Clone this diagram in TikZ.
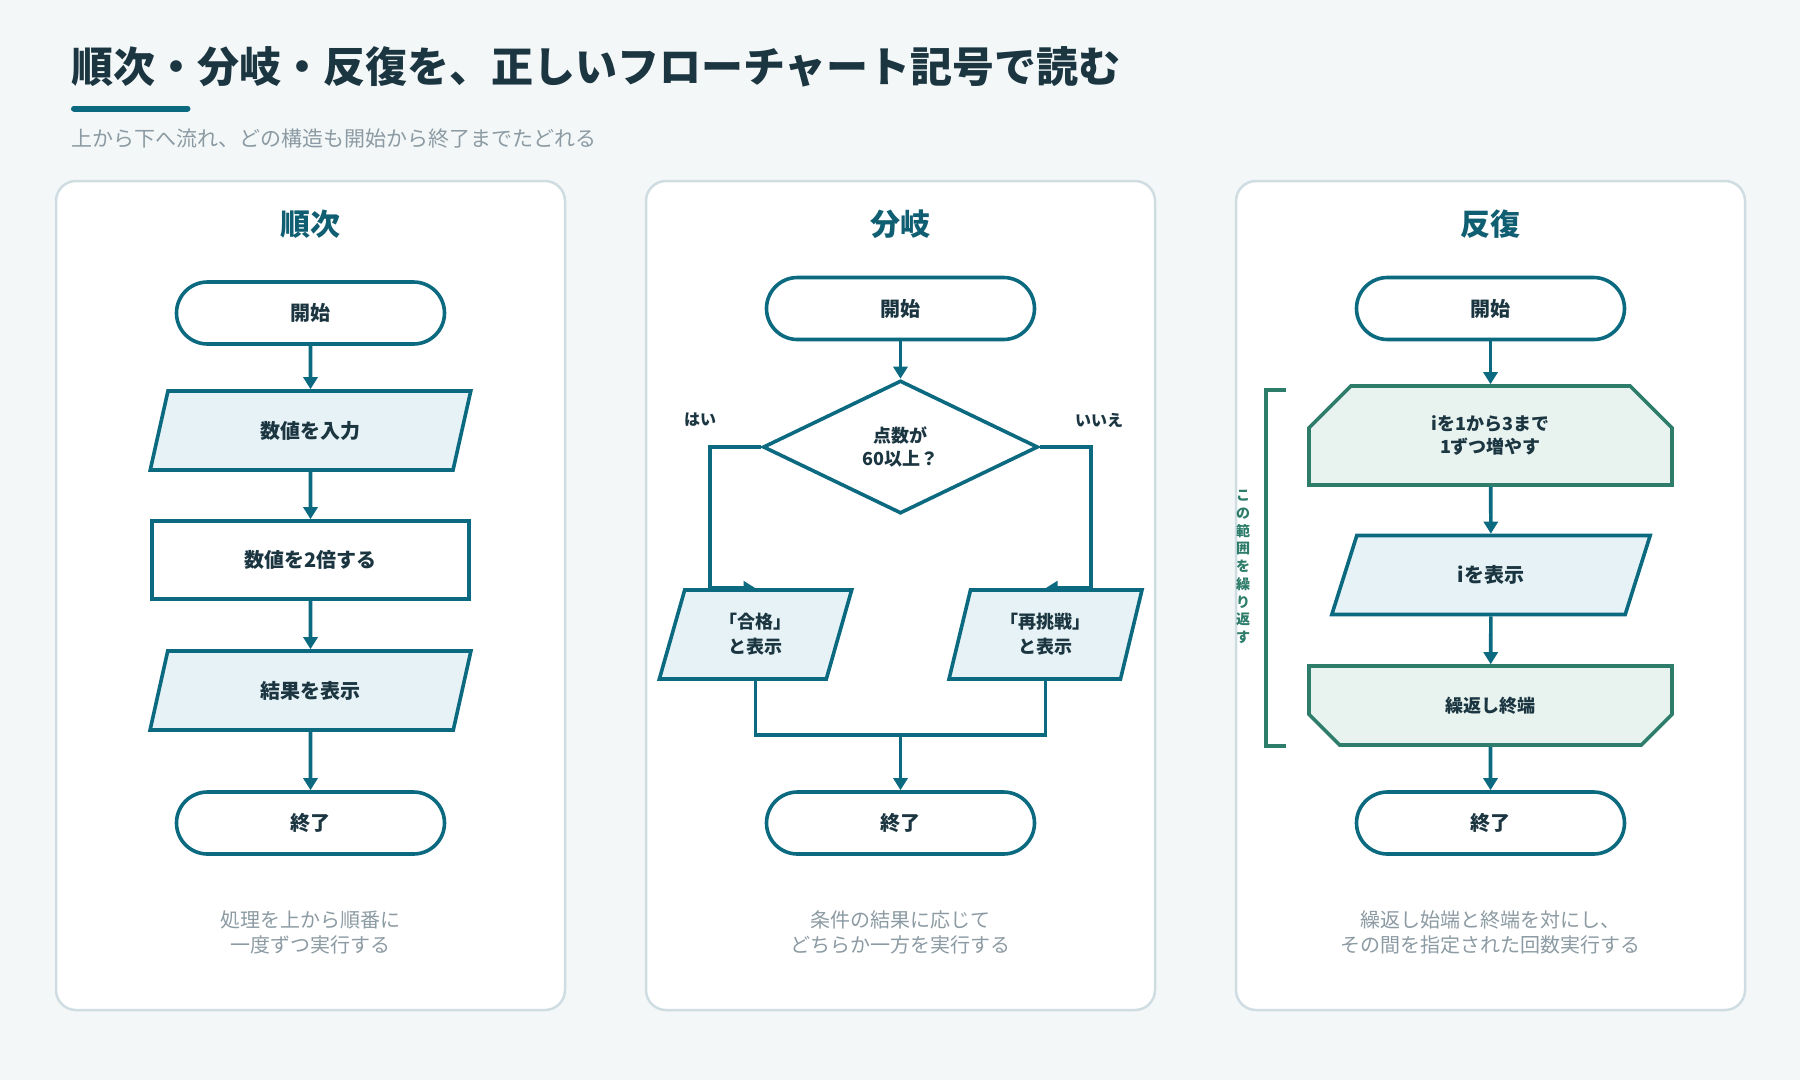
\documentclass[tikz,border=0pt]{standalone}
\usepackage{fontspec}
\setmainfont{Noto Sans CJK JP}
\usetikzlibrary{shapes.geometric,shapes.misc,arrows.meta,positioning}
\definecolor{bgpage}{HTML}{F3F7F8}
\definecolor{panelline}{HTML}{CFDDE2}
\definecolor{flowteal}{HTML}{0B6A80}
\definecolor{flowgreen}{HTML}{2E7D6B}
\definecolor{inkdark}{HTML}{1B3641}
\definecolor{titleteal}{HTML}{0F5E72}
\definecolor{notegray}{HTML}{8C9BA3}
\definecolor{iofill}{HTML}{E6F2F5}
\definecolor{loopfill}{HTML}{E8F2EF}
\pgfdeclarelayer{back}
\pgfdeclarelayer{edges}
\pgfsetlayers{back,edges,main}
\begin{document}
\begin{tikzpicture}[x=1pt, y=-1pt, >={Triangle[width=14pt,length=12pt]},
	box/.style={draw=flowteal, line width=3.6pt, text=inkdark, align=center, inner sep=0pt,
		font=\fontsize{20}{24}\selectfont\bfseries},
	term/.style={box, fill=white, rounded corners=31pt, minimum width=268pt, minimum height=62pt},
	proc/.style={box, fill=white, minimum width=317pt, minimum height=78pt},
	io/.style={box, fill=iofill, trapezium, trapezium stretches=true, trapezium left angle=72,
		trapezium right angle=108, minimum width=321pt, minimum height=79pt},
	loopbox/.style={box, draw=flowgreen, fill=loopfill, chamfered rectangle, chamfered rectangle xsep=24pt,
		chamfered rectangle ysep=22pt, minimum width=363pt},
	flow/.style={draw=flowteal, line width=3.6pt},
	panel/.style={draw=panelline, fill=white, line width=2.5pt, rounded corners=20pt},
	head/.style={text=titleteal, font=\fontsize{30}{32}\selectfont\bfseries},
	note/.style={text=notegray, align=center, font=\fontsize{20}{25}\selectfont}]
	\begin{pgfonlayer}{back}
		\fill[bgpage] (0,0) rectangle (1800,1080);
		\foreach \px in {56,646,1236}
			\draw[panel] (\px,181) rectangle +(509,829);
	\end{pgfonlayer}
	\useasboundingbox (0,0) rectangle (1800,1080);
	\node[anchor=west, inner sep=0pt, text=inkdark, font=\fontsize{42}{48}\selectfont\bfseries] (title) at (71,67)
		{順次・分岐・反復を、正しいフローチャート記号で読む};
	\draw[flowteal, line width=6pt, line cap=round] (74,108.5) -- (187.5,108.5);
	\node[anchor=west, inner sep=0pt, text=notegray, font=\fontsize{21}{25}\selectfont] (sub) at (71,139)
		{上から下へ流れ、どの構造も開始から終了までたどれる};
	
	\node[head] (h1) at (310.5,224) {順次};
	\node[term] (s1) at (310.5,313) {開始};
	\node[io] (i1) at (310.5,430.5) {数値を入力};
	\node[proc] (p1) at (310.5,560) {数値を2倍する};
	\node[io] (o1) at (310.5,690.5) {結果を表示};
	\node[term] (e1) at (310.5,823) {終了};
	\node[note] (n1) at (310.5,932) {処理を上から順番に\\一度ずつ実行する};
	
	\node[head] (h2) at (900.5,224) {分岐};
	\node[term] (s2) at (900.5,308.5) {開始};
	\node[box, fill=white, diamond, minimum width=275pt, minimum height=133pt,
		font=\fontsize{18}{23}\selectfont\bfseries] (q) at (900.5,447) {点数が\\60以上？};
	\node[io, trapezium left angle=73, trapezium right angle=107, minimum width=193pt, minimum height=89pt,
		font=\fontsize{18}{25}\selectfont\bfseries] (yes) at (755.5,634.5) {「合格」\\と表示};
	\node[io, trapezium left angle=73, trapezium right angle=107, minimum width=193pt, minimum height=89pt,
		font=\fontsize{18}{25}\selectfont\bfseries] (no) at (1045.5,634.5) {「再挑戦」\\と表示};
	\node[text=inkdark, font=\fontsize{16}{18}\selectfont\bfseries] (lyes) at (700,420) {はい};
	\node[text=inkdark, font=\fontsize{16}{18}\selectfont\bfseries] (lno) at (1099,420) {いいえ};
	\coordinate (m2) at (900.5,735);
	\node[term] (e2) at (900.5,823) {終了};
	\node[note] (n2) at (900.5,932) {条件の結果に応じて\\どちらか一方を実行する};
	
	\node[head] (h3) at (1490.5,224) {反復};
	\node[term] (s3) at (1490.5,308.5) {開始};
	\node[loopbox, chamfered rectangle corners={north west,north east}, minimum height=99pt,
		font=\fontsize{18}{23}\selectfont\bfseries] (ls) at (1490.5,435.5) {iを1から3まで\\1ずつ増やす};
	\node[io] (i3) at (1491,575) {iを表示};
	\node[loopbox, chamfered rectangle corners={south west,south east}, minimum height=79pt,
		font=\fontsize{18}{23}\selectfont\bfseries] (le) at (1490.5,705.5) {繰返し終端};
	\node[term] (e3) at (1490.5,823) {終了};
	\draw[flowgreen, line width=3.2pt] (1286,390) -| (1266,746) -- (1286,746);
	\node[text=flowgreen, align=center, font=\fontsize{14}{17.75}\selectfont\bfseries] (rep) at (1243,567)
		{こ\\の\\範\\囲\\を\\繰\\り\\返\\す};
	\node[note] (n3) at (1490.5,932) {繰返し始端と終端を対にし、\\その間を指定された回数実行する};
	
	\begin{pgfonlayer}{edges}
		\draw[flow,->] (s1) -- (i1);
		\draw[flow,->] (i1) -- (p1);
		\draw[flow,->] (p1) -- (o1);
		\draw[flow,->] (o1) -- (e1);
		\draw[flow,->] (s2) -- (q);
		\draw[flow,->] (q.west) -| ([xshift=-45.5pt]yes.north) -- (yes.north);
		\draw[flow,->] (q.east) -| ([xshift=45.5pt]no.north) -- (no.north);
		\draw[flow] (yes.south) |- (m2) -| (no.south);
		\draw[flow,->] (m2) -- (e2);
		\draw[flow,->] (s3) -- (ls);
		\draw[flow,->] (ls) -- (i3);
		\draw[flow,->] (i3) -- (le);
		\draw[flow,->] (le) -- (e3);
	\end{pgfonlayer}
\end{tikzpicture}
\end{document}
